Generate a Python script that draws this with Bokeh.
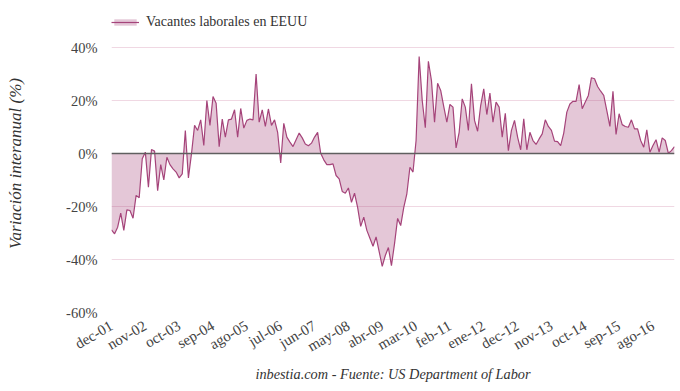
import math
from bokeh.plotting import figure
from bokeh.models import (ColumnDataSource, Range1d, FixedTicker, PrintfTickFormatter,
                          Span, Legend, LegendItem)
from bokeh.embed import file_html
from bokeh.resources import INLINE

# Year-over-year change of US job openings (%), monthly, starting dec-01
values = [
    -28.8, -30.3, -27.8, -22.5, -29.0, -21.3, -21.5, -24.4, -15.8, -16.7,
    -2.0, 0.5, -12.7, 1.5, 0.9, -14.0, -4.2, -10.0, -1.4, -4.2,
    -5.8, -7.0, -9.2, -7.7, 8.7, -9.2, -0.1, 10.6, 8.7, 12.7,
    3.0, 20.0, 10.6, 21.5, 19.0, 2.6, 13.0, 6.2, 12.7, 13.0,
    16.5, 6.2, 17.0, 9.6, 12.5, 13.0, 12.7, 30.0, 11.8, 16.5,
    10.2, 16.8, 10.6, 12.7, 8.0, -3.6, 11.4, 6.2, 4.3, 2.6,
    5.2, 7.7, 5.9, 3.6, 2.9, 3.9, 6.2, 8.0, 0.1, -2.4,
    -4.2, -4.2, -3.9, -8.3, -9.6, -14.3, -15.0, -13.0, -18.4, -15.0,
    -20.3, -27.5, -24.0, -29.0, -32.0, -35.0, -31.5, -37.0, -42.6, -38.5,
    -35.5, -42.3, -34.0, -24.5, -27.2, -20.3, -15.2, -5.2, -7.0, 4.9,
    36.6, 20.0, 9.7, 34.8, 27.5, 11.8, 26.5, 23.8, 17.7, 11.8,
    18.5, 17.5, 2.1, 8.0, 20.6, 17.5, 8.7, 26.3, 12.5, 8.4,
    18.1, 24.4, 14.7, 22.8, 11.8, 19.4, 17.5, 6.2, 15.2, 1.1,
    8.7, 12.5, 6.2, 1.4, 13.1, 1.4, 8.0, 4.9, 3.4, 5.5,
    7.4, 12.7, 10.2, 8.7, 4.7, 4.5, 3.0, 7.7, 15.6, 18.7,
    19.7, 19.7, 26.0, 16.9, 19.4, 21.9, 28.6, 28.2, 25.3, 23.5,
    21.9, 16.2, 10.2, 23.5, 7.2, 15.0, 10.9, 10.2, 9.9, 12.7,
    9.3, 9.3, 4.9, 2.4, 8.9, 0.5, 3.0, 5.2, 0.5, 5.9,
    4.9, 0.1, 1.1, 2.6,
]

tick_labels = ["dec-01", "nov-02", "oct-03", "sep-04", "ago-05", "jul-06",
               "jun-07", "may-08", "abr-09", "mar-10", "feb-11", "ene-12",
               "dec-12", "nov-13", "oct-14", "sep-15", "ago-16"]
tick_step = 11
y_ticks = [-60, -40, -20, 0, 20, 40]

series_name = "Vacantes laborales en EEUU"
y_label = "Variación interanual (%)"
source_label = "inbestia.com - Fuente: US Department of Labor"

FONT = "Liberation Serif"
LINE = "#a5447a"

W, H = 680, 391
TOP, BOTTOM, LEFT, RIGHT = 14, 79, 111, 6
# the frame reaches up to the legend; 100 percentage points span 265 px
frame_h = H - TOP - BOTTOM
y_top = -60 + frame_h * 100 / 265

idx = list(range(len(values)))
src = ColumnDataSource(dict(x=idx, y=values, zero=[0] * len(values)))

p = figure(width=W, height=H, output_backend="svg", toolbar_location=None,
           x_range=Range1d(0, len(values) - 1), y_range=Range1d(-60, y_top),
           min_border_left=LEFT, min_border_right=RIGHT, min_border_top=TOP,
           min_border_bottom=BOTTOM)
p.outline_line_color = None
p.background_fill_color = "white"

area = p.varea(x="x", y1="zero", y2="y", source=src, fill_color=LINE, fill_alpha=0.3)
line = p.line(x="x", y="y", source=src, line_color=LINE, line_width=1.2)

p.add_layout(Span(location=0, dimension="width", line_color="#5f5f5f", line_width=1.6))

# axes
tick_pos = [i * tick_step for i in range(len(tick_labels))]
p.xaxis.ticker = FixedTicker(ticks=tick_pos)
p.xaxis.major_label_overrides = {t: lab for t, lab in zip(tick_pos, tick_labels)}
p.xaxis.major_label_orientation = math.pi / 6
p.xaxis.axis_line_color = None
p.xaxis.major_tick_line_color = None
p.xaxis.minor_tick_line_color = None
p.xaxis.major_tick_out = 0
p.xaxis.major_tick_in = 0
p.xaxis.minor_tick_out = 0
p.xaxis.major_label_text_font = FONT
p.xaxis.major_label_text_font_size = "15px"
p.xaxis.major_label_text_color = "#444444"
p.xaxis.major_label_standoff = 12
p.xaxis.axis_label = source_label
p.xaxis.axis_label_text_font = FONT
p.xaxis.axis_label_text_font_style = "italic"
p.xaxis.axis_label_text_font_size = "14.3px"
p.xaxis.axis_label_text_color = "#333333"
p.xaxis.axis_label_standoff = 2

p.yaxis.ticker = FixedTicker(ticks=y_ticks)
p.yaxis.bounds = (-60, 40)
p.yaxis.formatter = PrintfTickFormatter(format="%d%%")
p.yaxis.axis_line_color = None
p.yaxis.major_tick_line_color = None
p.yaxis.minor_tick_line_color = None
p.yaxis.major_tick_out = 0
p.yaxis.major_tick_in = 0
p.yaxis.minor_tick_out = 0
p.yaxis.major_label_text_font = FONT
p.yaxis.major_label_text_font_size = "14.5px"
p.yaxis.major_label_text_color = "#444444"
p.yaxis.major_label_standoff = 14
p.yaxis.axis_label = y_label
p.yaxis.axis_label_text_font = FONT
p.yaxis.axis_label_text_font_style = "italic"
p.yaxis.axis_label_text_font_size = "17px"
p.yaxis.axis_label_text_color = "#333333"
p.yaxis.axis_label_standoff = 38

p.xgrid.grid_line_color = None
p.ygrid.grid_line_color = "#f0d8e3"
p.ygrid.grid_line_width = 1

legend = Legend(items=[LegendItem(label=series_name, renderers=[area, line])],
                location="top_left", orientation="horizontal",
                margin=0, padding=0, spacing=0,
                glyph_width=28, glyph_height=8, label_height=8,
                label_standoff=7,
                label_text_font=FONT, label_text_font_size="14px",
                label_text_color="#333333",
                border_line_color=None, background_fill_alpha=0)
p.add_layout(legend, "center")

open("out.html", "w").write(file_html(p, INLINE))
